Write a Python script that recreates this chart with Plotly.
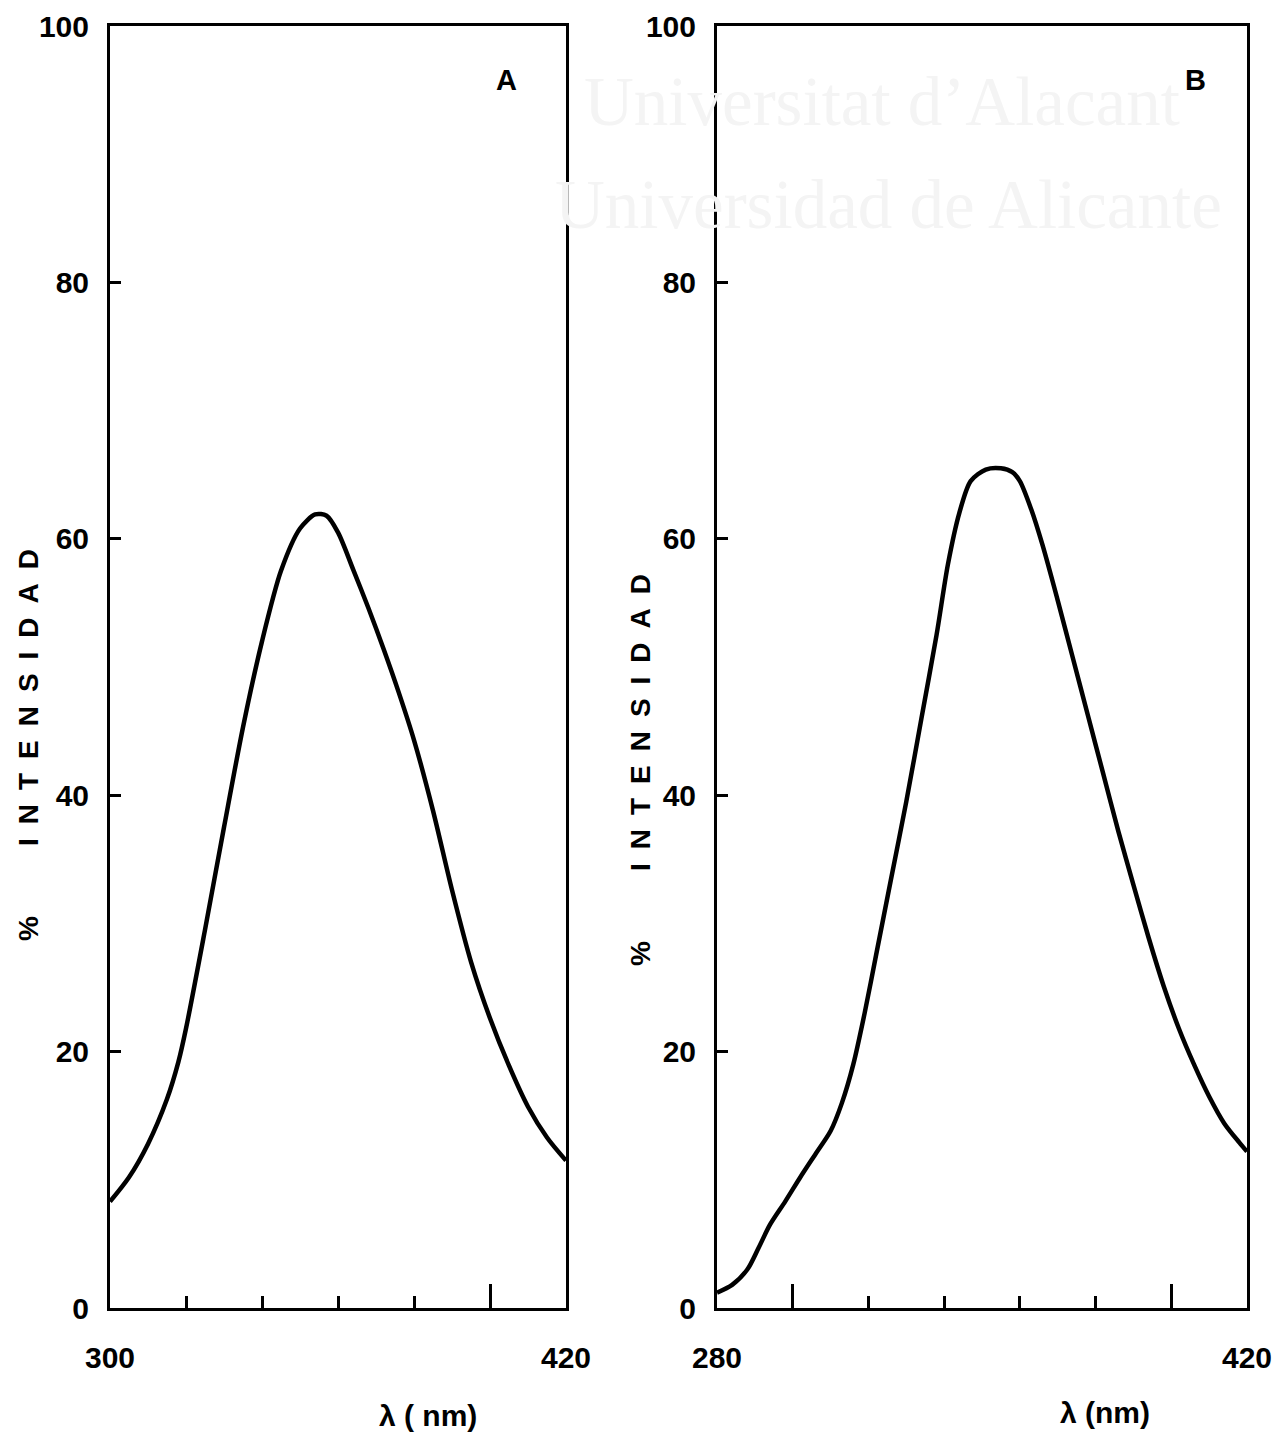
import plotly.graph_objects as go

# Panel A data
wl_a = [300, 305, 310, 315, 318, 320, 325, 330, 335, 340, 345, 350, 354, 357,
        360, 364, 368, 372, 376, 380, 385, 390, 395, 400, 405, 410, 415, 420]
int_a = [8.3, 10.2, 12.8, 16.3, 19.2, 21.8, 29.5, 37.5, 45.3, 52, 57.5, 60.8, 61.9, 61.8,
         60.5, 57.6, 54.6, 51.4, 48, 44.3, 38.8, 32.6, 27, 22.6, 18.9, 15.7, 13.3, 11.5]

# Panel B data
wl_b = [280, 284, 288, 291, 294, 298, 302, 306, 310, 313, 316, 319, 322, 326,
        330, 334, 338, 341, 344, 347, 351, 355, 358, 360, 363, 366, 370, 374,
        378, 382, 386, 390, 394, 398, 402, 406, 410, 414, 418, 420]
int_b = [1.2, 1.8, 3.0, 4.7, 6.5, 8.3, 10.2, 12.0, 13.8, 16, 19, 23, 27.5, 33.5,
         39.5, 46, 52.5, 58, 62, 64.5, 65.4, 65.5, 65.2, 64.5, 62.3, 59.5, 55.2, 50.7,
         46.2, 41.7, 37.2, 33, 28.9, 25.1, 21.8, 19, 16.5, 14.4, 12.9, 12.2]

y_ticks = [0, 20, 40, 60, 80, 100]
xa_major = [300, 400, 420]
xa_text = ["300", "", "420"]
xb_major = [280, 300, 400, 420]
xb_text = ["280", "", "", "420"]
x_minor = [320, 340, 360, 380]

W, H = 1274, 1438
fig = go.Figure()
fig.add_trace(go.Scatter(x=wl_a, y=int_a, mode="lines", xaxis="x", yaxis="y",
                         line=dict(color="black", width=4.5, shape="spline", smoothing=0.8),
                         showlegend=False))
fig.add_trace(go.Scatter(x=wl_b, y=int_b, mode="lines", xaxis="x2", yaxis="y2",
                         line=dict(color="black", width=4.5, shape="spline", smoothing=0.8),
                         showlegend=False))

tick_font = dict(family="Liberation Sans Narrow, Liberation Sans, Arial", size=30,
                 color="black", weight="bold")
ydom = [1 - 1308 / H, 1 - 26 / H]

def xaxis(dom, rng, vals, text, anchor):
    return dict(domain=dom, range=rng, anchor=anchor, showgrid=False, zeroline=False,
                automargin=False,
                showline=True, mirror=True, linecolor="black", linewidth=3,
                ticks="inside", tickmode="array", tickvals=vals, ticktext=text,
                ticklen=24, tickwidth=3, tickcolor="black", tickfont=tick_font,
                ticklabelstandoff=21,
                minor=dict(tickmode="array", tickvals=x_minor, ticks="inside",
                           ticklen=12, tickwidth=3, tickcolor="black", showgrid=False))

def yaxis(anchor):
    return dict(domain=ydom, range=[0, 100], anchor=anchor, showgrid=False, zeroline=False,
                automargin=False,
                showline=True, mirror=True, linecolor="black", linewidth=3,
                ticks="inside", tickmode="array", tickvals=y_ticks,
                ticklen=11, tickwidth=3, tickcolor="black", tickfont=tick_font,
                ticklabelstandoff=12)

fig.update_layout(
    width=W, height=H, margin=dict(l=0, r=0, t=0, b=0, pad=0, autoexpand=False),
    paper_bgcolor="white", plot_bgcolor="white",
    xaxis=xaxis([110 / W, 566 / W], [300, 420], xa_major, xa_text, "y"),
    yaxis=yaxis("x"),
    xaxis2=xaxis([717 / W, 1247 / W], [280, 420], xb_major, xb_text, "y2"),
    yaxis2=yaxis("x2"),
)

lbl_font = dict(family="Liberation Sans, Arial", size=29, color="black", weight="bold")
sp = "\u2002"
ytitle = "%" + sp * 5 + sp.join(list("INTENSIDAD"))
title_font = dict(family="Liberation Sans, Arial", size=28, color="black", weight="bold")
ann = [
    dict(x=506 / W, y=1 - 80 / H, text="A", font=lbl_font),
    dict(x=1195 / W, y=1 - 80 / H, text="B", font=lbl_font),
    dict(x=28 / W, y=1 - 745 / H, text=ytitle, textangle=-90, font=title_font),
    dict(x=640 / W, y=1 - 770 / H, text=ytitle, textangle=-90, font=title_font),
    dict(x=428 / W, y=1 - 1415 / H, text="λ ( nm)",
         font=dict(family="Liberation Sans, Arial", size=30, color="black", weight="bold")),
    dict(x=1105 / W, y=1 - 1412 / H, text="λ (nm)",
         font=dict(family="Liberation Sans, Arial", size=30, color="black", weight="bold")),
    dict(x=882 / W, y=1 - 102 / H, text="Universitat d\u2019Alacant",
         font=dict(family="Liberation Serif, DejaVu Serif", size=69, color="#f4f4f4")),
    dict(x=888 / W, y=1 - 205 / H, text="Universidad de Alicante",
         font=dict(family="Liberation Serif, DejaVu Serif", size=69, color="#f4f4f4")),
]
for a in ann:
    a.update(xref="paper", yref="paper", showarrow=False, xanchor="center", yanchor="middle")
fig.update_layout(annotations=ann)

fig.write_html("out.html")
